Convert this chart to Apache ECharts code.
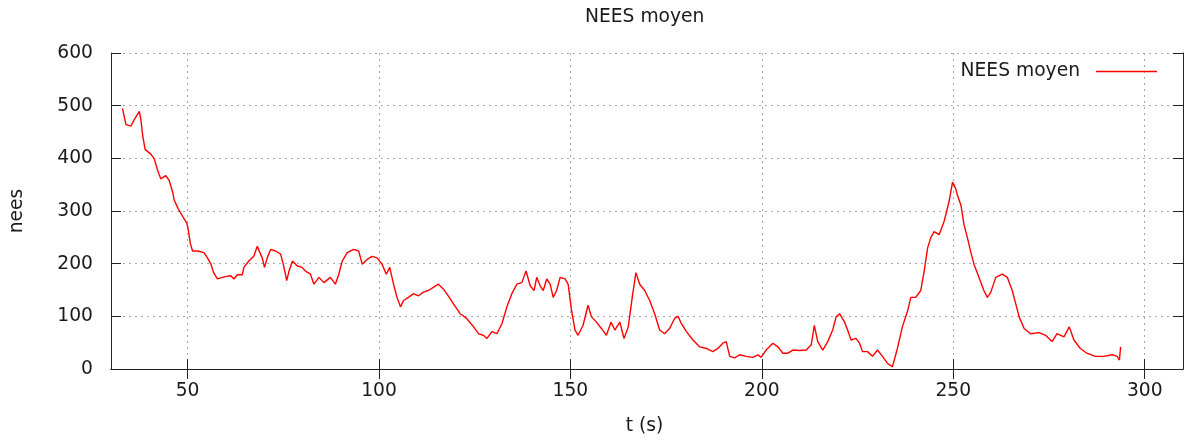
<!DOCTYPE html>
<html>
<head>
<meta charset="utf-8">
<script src="https://cdn.jsdelivr.net/npm/echarts@6/dist/echarts.min.js"></script>
<style>
html,body{margin:0;padding:0;background:#fff;}
#chart{width:1185px;height:441px;}
</style>
</head>
<body>
<div id="chart"></div>
<script>
// Time (s) and mean NEES values
const times = [33.0,33.9,35.2,36.1,37.4,37.8,38.3,38.9,40.4,41.3,42.2,43.0,44.3,45.2,46.1,46.5,47.5,48.7,49.8,50.1,50.7,51.3,52.6,54.3,55.2,56.1,56.8,57.8,59.5,61.3,62.1,63.0,64.3,64.7,66.0,67.3,68.2,68.9,69.5,70.1,70.8,71.7,73.0,74.3,75.0,75.9,76.5,77.4,78.6,79.9,80.8,82.1,83.0,84.3,85.6,87.3,88.6,89.5,90.4,91.7,93.4,94.7,95.6,96.9,98.2,99.5,100.8,101.9,102.8,103.8,104.7,105.6,106.4,107.7,109.0,110.3,111.6,112.9,114.2,115.5,116.8,118.1,119.4,121.2,122.9,124.7,126.0,127.3,128.2,129.5,130.8,132.1,133.4,134.7,136.0,137.3,138.4,139.5,140.5,141.2,142.1,142.9,143.8,144.7,145.5,146.4,147.3,148.6,149.4,150.3,151.2,152.0,153.3,154.6,155.5,156.8,158.1,159.4,160.6,161.6,162.9,164.0,165.1,166.2,167.1,168.1,169.4,170.7,172.0,173.3,174.6,175.9,177.2,178.1,179.0,180.3,182.0,183.8,185.5,187.2,188.5,189.8,190.7,191.6,192.9,194.2,195.9,197.6,199.0,199.8,201.1,202.9,204.2,205.5,206.8,208.1,209.8,211.6,212.9,213.7,214.6,215.9,217.2,218.5,219.4,220.3,221.6,222.4,223.3,224.6,225.5,226.3,227.6,228.9,230.2,231.5,232.8,234.1,235.4,236.7,238.1,238.9,240.2,241.5,242.4,243.3,244.1,245.0,246.3,247.6,248.9,249.8,250.6,251.1,252.0,252.8,253.7,254.6,255.4,256.7,258.0,258.9,259.8,261.1,262.8,264.1,265.4,266.3,267.2,268.5,270.2,272.4,274.1,275.8,277.1,278.9,280.3,281.5,283.2,284.9,287.1,289.3,291.5,292.8,293.4,293.7];
const nees = [495,464,461,474,489,474,442,417,408,399,377,361,367,358,336,321,305,290,277,268,239,224,224,221,211,199,183,171,175,177,171,179,179,193,205,214,233,221,211,193,211,227,224,218,199,168,186,205,196,193,186,180,161,174,164,174,161,180,205,221,227,224,199,208,214,211,199,180,193,161,136,118,130,136,143,139,146,149,155,161,152,139,124,105,96,80,67,64,58,71,67,86,118,143,161,164,186,158,149,174,158,149,171,161,136,149,174,171,161,111,74,64,83,121,99,89,77,64,89,74,89,58,80,139,183,161,149,130,105,74,67,77,96,100,86,71,55,42,39,33,39,49,52,24,21,27,24,22,27,22,36,49,42,30,30,36,35,36,46,83,52,36,52,74,99,105,89,74,55,58,49,33,33,24,36,24,11,4,39,80,111,136,136,149,186,230,249,261,255,280,318,355,343,330,311,274,249,221,199,174,149,136,146,174,180,174,149,124,99,77,67,69,64,52,67,61,80,55,39,30,24,24,27,24,17,42];
const xTicks = [50,100,150,200,250,300];
const seriesName = 'NEES moyen';

const FONT = 'DejaVu Sans';
const FS = 18.7;
const TXT = '#1a1a1a';
const chart = echarts.init(document.getElementById('chart'), null, {renderer:'canvas'});
const data = times.map((t,i)=>[t, nees[i]]);

const frameLine = {show:true, lineStyle:{color:'#222', width:1}};
const gridLine = {show:true, lineStyle:{color:'#a8a8a8', width:1, type:[2,4]}};

chart.setOption({
  animation:false,
  backgroundColor:'#fff',
  title:{
    text:'NEES moyen', left:585, top:8, padding:0,
    textStyle:{fontFamily:FONT, fontSize:FS, fontWeight:'normal', color:TXT}
  },
  legend:{
    data:[seriesName], right:28, top:62, padding:0,
    align:'right', icon:'rect', itemWidth:61, itemHeight:1.5,
    textStyle:{fontFamily:FONT, fontSize:FS, color:TXT, padding:[0,11,0,0]}
  },
  grid:{left:110, right:2, top:53, bottom:68, containLabel:false},
  xAxis:[{
    type:'value', min:30, max:310,
    name:'t (s)', nameLocation:'middle', nameGap:48,
    nameTextStyle:{fontFamily:FONT, fontSize:FS, color:TXT, padding:[0,5,0,0]},
    axisLine:frameLine,
    axisTick:{show:true, inside:true, length:10, customValues:xTicks, lineStyle:{color:'#222'}},
    axisLabel:{show:true, customValues:xTicks, margin:13, fontFamily:FONT, fontSize:FS, color:TXT},
    splitLine:gridLine
  },{
    type:'value', min:30, max:310, position:'top',
    axisLine:frameLine,
    axisTick:{show:true, inside:true, length:10, customValues:xTicks, lineStyle:{color:'#222'}},
    axisLabel:{show:false},
    splitLine:{show:false}
  }],
  yAxis:[{
    type:'value', min:0, max:600, interval:100,
    name:'nees', nameLocation:'middle', nameGap:84, nameRotate:90,
    nameTextStyle:{fontFamily:FONT, fontSize:FS, color:TXT},
    axisLine:frameLine,
    axisTick:{show:true, inside:true, length:10, lineStyle:{color:'#222'}},
    axisLabel:{show:true, margin:18, fontFamily:FONT, fontSize:FS, color:TXT},
    splitLine:gridLine
  },{
    type:'value', min:0, max:600, interval:100, position:'right',
    axisLine:frameLine,
    axisTick:{show:true, inside:true, length:10, lineStyle:{color:'#222'}},
    axisLabel:{show:false},
    splitLine:{show:false}
  }],
  series:[{
    name:seriesName, type:'line', data:data,
    xAxisIndex:0, yAxisIndex:0,
    showSymbol:false, symbol:'none',
    lineStyle:{color:'#ff0000', width:1.4},
    itemStyle:{color:'#ff0000'}
  }]
});
</script>
</body>
</html>
